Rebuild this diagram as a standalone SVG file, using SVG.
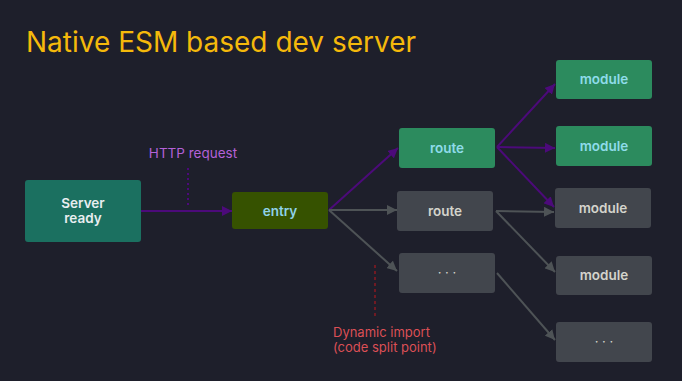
<svg xmlns="http://www.w3.org/2000/svg" width="682" height="381" viewBox="0 0 682 381">
  <defs>
    <marker id="ap" viewBox="0 0 10 10" refX="10" refY="5" markerWidth="10" markerHeight="10" markerUnits="userSpaceOnUse" orient="auto">
      <path d="M0,0 L10,5 L0,10 z" fill="#4c0a7a"/>
    </marker>
    <marker id="ag" viewBox="0 0 10 10" refX="10" refY="5" markerWidth="10" markerHeight="10" markerUnits="userSpaceOnUse" orient="auto">
      <path d="M0,0 L10,5 L0,10 z" fill="#4e5356"/>
    </marker>
  </defs>
  <style>
    .t { font-family: Inter, "Liberation Sans", sans-serif; font-size: 13.5px; font-weight: 600; text-anchor: middle; }
    .green rect { fill: #2c8b5e; }
    .green text { fill: #8fdcea; }
    .gray rect { fill: #42464d; }
    .gray text { fill: #d4d4cc; }
    .pl { stroke: #4c0a7a; stroke-width: 2; fill: none; marker-end: url(#ap); }
    .gl { stroke: #4e5356; stroke-width: 2; fill: none; marker-end: url(#ag); }
    .dots { font-family: Inter, "Liberation Sans", sans-serif; font-size: 13px; text-anchor: middle; fill: #d4d4cc; }
  </style>
  <rect width="682" height="381" fill="#1e1f2b"/>
  <text x="26" y="52" font-family="Inter, 'Liberation Sans', sans-serif" font-size="28" fill="#f5b90b">Native ESM based dev server</text>

  <g id="connectors">
    <line class="pl" x1="141" y1="211" x2="232" y2="211"/>
    <line x1="188" y1="168" x2="188" y2="205" stroke="#4c0a7a" stroke-width="2" stroke-dasharray="2,3"/>
    <line class="pl" x1="329" y1="210" x2="398" y2="148"/>
    <line class="gl" x1="329" y1="210" x2="397" y2="210"/>
    <line class="gl" x1="329" y1="210" x2="397" y2="271"/>
    <line class="pl" x1="497" y1="147" x2="555" y2="84"/>
    <line class="pl" x1="497" y1="147" x2="555" y2="148"/>
    <line class="pl" x1="497" y1="147" x2="554" y2="207"/>
    <line class="gl" x1="496" y1="211" x2="554" y2="212"/>
    <line class="gl" x1="496" y1="211" x2="555" y2="272"/>
    <line class="gl" x1="497" y1="273" x2="555" y2="340"/>
    <line x1="375" y1="265" x2="375" y2="318" stroke="#8b1a22" stroke-width="1.5" stroke-dasharray="3,3"/>
  </g>

  <text x="193" y="158" font-family="Inter, 'Liberation Sans', sans-serif" font-size="13.5" fill="#b461d8" text-anchor="middle">HTTP request</text>
  <text font-family="Inter, 'Liberation Sans', sans-serif" font-size="13" fill="#dc4f56">
    <tspan x="333" y="337">Dynamic import</tspan>
    <tspan x="333" y="352">(code split point)</tspan>
  </text>

  <g id="server-ready">
    <rect x="25" y="180" width="116" height="62" rx="3" fill="#1b7060"/>
    <text class="t" fill="#e8eef0"><tspan x="83" y="208">Server</tspan><tspan x="83" y="223">ready</tspan></text>
  </g>
  <g id="entry">
    <rect x="232" y="192" width="96" height="37" rx="3" fill="#365200"/>
    <text class="t" x="280" y="216" fill="#8fd3ea">entry</text>
  </g>
  <g id="route1" class="green">
    <rect x="399" y="128" width="96" height="40" rx="3"/>
    <text class="t" x="447" y="153">route</text>
  </g>
  <g id="route2" class="gray">
    <rect x="397" y="191" width="96" height="40" rx="3"/>
    <text class="t" x="445" y="216">route</text>
  </g>
  <g id="dyn1" class="gray">
    <rect x="399" y="253" width="96" height="40" rx="3"/>
    <text class="dots" x="447" y="277">· · ·</text>
  </g>
  <g id="module1" class="green">
    <rect x="556" y="60" width="96" height="39" rx="3"/>
    <text class="t" x="604" y="84">module</text>
  </g>
  <g id="module2" class="green">
    <rect x="556" y="126" width="96" height="40" rx="3"/>
    <text class="t" x="604" y="151">module</text>
  </g>
  <g id="module3" class="gray">
    <rect x="555" y="188" width="96" height="40" rx="3"/>
    <text class="t" x="603" y="213">module</text>
  </g>
  <g id="module4" class="gray">
    <rect x="556" y="256" width="96" height="39" rx="3"/>
    <text class="t" x="604" y="280">module</text>
  </g>
  <g id="dyn2" class="gray">
    <rect x="556" y="322" width="96" height="40" rx="3"/>
    <text class="dots" x="604" y="346">· · ·</text>
  </g>
</svg>
